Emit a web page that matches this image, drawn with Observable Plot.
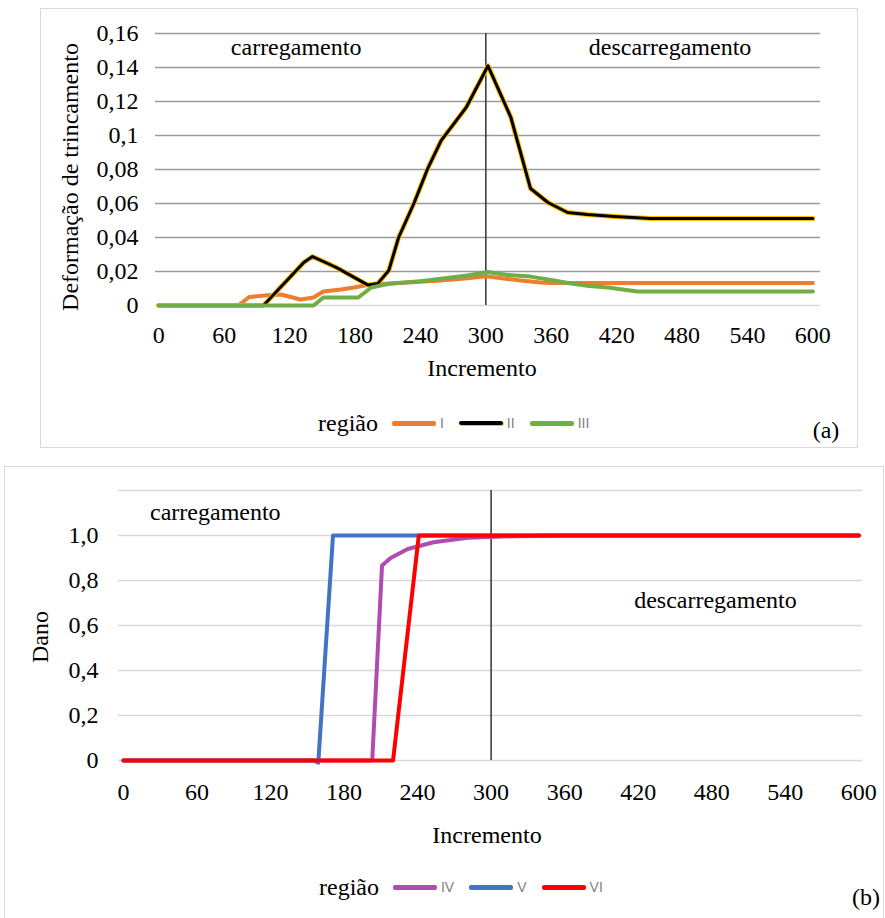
<!DOCTYPE html>
<html><head><meta charset="utf-8">
<script src="https://cdn.jsdelivr.net/npm/d3@7"></script>
<script src="https://cdn.jsdelivr.net/npm/@observablehq/plot@0.6"></script>
<style>
html,body{margin:0;padding:0;background:#fff;}
#root{position:relative;width:885px;height:918px;overflow:hidden;font-family:"Liberation Serif","Times New Roman",serif;color:#000;}
.abs{position:absolute;white-space:nowrap;line-height:1;}
.box{position:absolute;border:1px solid #d9d9d9;box-sizing:border-box;}
.leg{position:absolute;display:flex;align-items:center;height:30px;}
.leg .t{font-family:"Liberation Serif",serif;font-size:24px;margin-right:14px;}
.leg .sw{width:44px;height:5px;border-radius:2px;margin-right:4px;}
.leg .l{font-family:"Liberation Sans",Arial,sans-serif;font-size:14px;color:#7f7f7f;margin-right:15px;}
</style></head><body><div id="root"></div>
<script>
// ---------- data ----------
const xTicks = [0, 60, 120, 180, 240, 300, 360, 420, 480, 540, 600];
const xTickLabels = ["0", "60", "120", "180", "240", "300", "360", "420", "480", "540", "600"];

// panel (a)
const yTicksA = [0, 0.02, 0.04, 0.06, 0.08, 0.1, 0.12, 0.14, 0.16];
const yLabelsA = ["0", "0,02", "0,04", "0,06", "0,08", "0,1", "0,12", "0,14", "0,16"];
const seriesA = ["I", "II", "III"];
const colorsA = ["#ED7D31", "#000000", "#70AD47"];

const incI = [0, 73, 83, 100, 112, 130, 142, 151, 167, 179, 195, 213, 240, 259, 283, 300, 318, 332, 350, 360, 600];
const defI = [0, 0, 0.005, 0.006, 0.0065, 0.0035, 0.0047, 0.0082, 0.0094, 0.0106, 0.0125, 0.013, 0.014, 0.0147, 0.016, 0.0172, 0.0158, 0.0147, 0.0135, 0.0133, 0.0133];

const incII = [0, 96, 133, 141, 155, 164, 192, 201, 211, 220, 234, 247, 259, 282, 302, 323, 341, 357, 375, 393, 418, 451, 600];
const defII = [0, 0, 0.0253, 0.0288, 0.0247, 0.022, 0.012, 0.013, 0.0206, 0.04, 0.06, 0.081, 0.097, 0.1165, 0.141, 0.1106, 0.0688, 0.0606, 0.0547, 0.0535, 0.0524, 0.0512, 0.0512];

const incIII = [0, 142, 151, 183, 195, 213, 240, 259, 283, 302, 320, 341, 360, 378, 395, 412, 439, 600];
const defIII = [0, 0, 0.0047, 0.0047, 0.0106, 0.013, 0.0143, 0.0158, 0.0176, 0.0197, 0.018, 0.017, 0.015, 0.0129, 0.0115, 0.0106, 0.0082, 0.0082];

// panel (b)
const yTicksB = [0, 0.2, 0.4, 0.6, 0.8, 1.0];
const yLabelsB = ["0", "0,2", "0,4", "0,6", "0,8", "1,0"];
const yGridB = [0, 0.2, 0.4, 0.6, 0.8, 1.0, 1.2];
const seriesB = ["IV", "V", "VI"];
const colorsB = ["#B04BB0", "#4472C4", "#FF0000"];

const incIV = [0, 203, 211, 218, 232, 253, 281, 320, 360, 600];
const danoIV = [0, 0, 0.867, 0.9, 0.94, 0.97, 0.99, 0.997, 1.0, 1.0];
const incV = [0, 155, 159, 171, 600];
const danoV = [0, 0, -0.01, 1.0, 1.0];
const incVI = [0, 220, 241, 600];
const danoVI = [0, 0, 1.0, 1.0];

const divider = [300];
const annotationsA = [
  {label: "carregamento", x: 126, y: 0.1518},
  {label: "descarregamento", x: 469, y: 0.1518}
];
const annotationsB = [
  {label: "carregamento", x: 75, y: 1.102},
  {label: "descarregamento", x: 483, y: 0.711}
];

// ---------- build ----------
const rows = (xs, ys) => xs.map((x, i) => ({x, y: ys[i]}));
const root = document.getElementById("root");
const fmtX = d => xTickLabels[xTicks.indexOf(d)];

function addBox(l, t, w, h) {
  const b = document.createElement("div");
  b.className = "box";
  Object.assign(b.style, {left: l + "px", top: t + "px", width: w + "px", height: h + "px"});
  root.appendChild(b);
}
function addText(txt, cx, cy, size, rotate) {
  const d = document.createElement("div");
  d.className = "abs";
  d.textContent = txt;
  d.style.fontSize = size + "px";
  d.style.left = cx + "px";
  d.style.top = cy + "px";
  d.style.transform = "translate(-50%,-50%)" + (rotate ? " rotate(-90deg)" : "");
  root.appendChild(d);
}
function addLegend(left, cy, names, colors, halo) {
  const g = document.createElement("div");
  g.className = "leg";
  g.style.left = left + "px";
  g.style.top = (cy - 15) + "px";
  const t = document.createElement("span");
  t.className = "t"; t.textContent = "região";
  g.appendChild(t);
  names.forEach((n, i) => {
    const s = document.createElement("span");
    s.className = "sw";
    s.style.background = colors[i];
    if (halo && halo[i]) { s.style.height = "4px"; s.style.boxShadow = "1px 1px 0 0 " + halo[i]; }
    g.appendChild(s);
    const l = document.createElement("span");
    l.className = "l"; l.textContent = n;
    g.appendChild(l);
  });
  root.appendChild(g);
}
function place(svg, l, t) {
  svg.style.position = "absolute";
  svg.style.left = l + "px";
  svg.style.top = t + "px";
  root.appendChild(svg);
}

// boxes
addBox(40, 8, 818, 440);
addBox(4, 466, 880, 460);

// ---------- panel (a) ----------
const plotA = Plot.plot({
  width: 817, height: 439,
  marginLeft: 115, marginRight: 37, marginTop: 25, marginBottom: 142,
  style: {fontFamily: "Liberation Serif, Times New Roman, serif", fontSize: "24px", color: "#000", background: "transparent", overflow: "visible"},
  x: {domain: [-3, 607], ticks: xTicks, tickFormat: fmtX, tickSize: 0, tickPadding: 20, label: null},
  y: {domain: [0, 0.16], ticks: yTicksA, tickFormat: d => yLabelsA[yTicksA.indexOf(d)], tickSize: 0, tickPadding: 17, label: null},
  marks: [
    Plot.ruleY(yTicksA.filter(d => d > 0), {x1: -3, x2: 607, stroke: "#9a9a9a", strokeWidth: 1.6}),
    Plot.ruleY([0], {x1: -3, x2: 607, stroke: "#d9d9d9", strokeWidth: 1.6}),
    Plot.ruleX(divider, {y1: 0, y2: 0.16, stroke: "#333", strokeWidth: 1.5}),
    Plot.line(rows(incI, defI), {x: "x", y: "y", stroke: colorsA[0], strokeWidth: 4, strokeLinejoin: "round"}),
    Plot.line(rows(incII, defII), {x: "x", y: "y", stroke: "#FFC000", strokeWidth: 5, strokeLinejoin: "round"}),
    Plot.line(rows(incII, defII), {x: "x", y: "y", stroke: colorsA[1], strokeWidth: 3, strokeLinejoin: "round"}),
    Plot.line(rows(incIII, defIII), {x: "x", y: "y", stroke: colorsA[2], strokeWidth: 4, strokeLinejoin: "round"}),
    Plot.text(annotationsA, {x: "x", y: "y", text: "label", fontSize: 24, fill: "#000", textAnchor: "middle"})
  ]
});
place(plotA, 40, 8);
addText("Deformação de trincamento", 70, 177, 24, true);
addText("Incremento", 482, 368, 24);
addText("(a)", 826, 430, 24);
addLegend(318, 423, seriesA, colorsA, [null, "#FFC000", null]);

// ---------- panel (b) ----------
const plotB = Plot.plot({
  width: 878, height: 451,
  marginLeft: 113, marginRight: 21, marginTop: 23, marginBottom: 158,
  style: {fontFamily: "Liberation Serif, Times New Roman, serif", fontSize: "24px", color: "#000", background: "transparent", overflow: "visible"},
  x: {domain: [-4, 603], ticks: xTicks, tickFormat: fmtX, tickSize: 0, tickPadding: 22, label: null},
  y: {domain: [0, 1.2], ticks: yTicksB, tickFormat: d => yLabelsB[yTicksB.indexOf(d)], tickSize: 0, tickPadding: 20, label: null},
  marks: [
    Plot.ruleY(yGridB, {x1: -4, x2: 603, stroke: "#d9d9d9", strokeWidth: 1.6}),
    Plot.ruleX(divider, {y1: 0, y2: 1.2, stroke: "#333", strokeWidth: 1.5}),
    Plot.line(rows(incIV, danoIV), {x: "x", y: "y", stroke: colorsB[0], strokeWidth: 4, strokeLinejoin: "round"}),
    Plot.line(rows(incV, danoV), {x: "x", y: "y", stroke: colorsB[1], strokeWidth: 4, strokeLinejoin: "round"}),
    Plot.line(rows(incVI, danoVI), {x: "x", y: "y", stroke: colorsB[2], strokeWidth: 4, strokeLinejoin: "round"}),
    Plot.text(annotationsB, {x: "x", y: "y", text: "label", fontSize: 24, fill: "#000", textAnchor: "middle"})
  ]
});
place(plotB, 5, 467);
addText("Dano", 40, 637, 24, true);
addText("Incremento", 487, 835, 24);
addText("(b)", 866, 897, 24);
addLegend(319, 887, seriesB, colorsB, null);
</script></body></html>
